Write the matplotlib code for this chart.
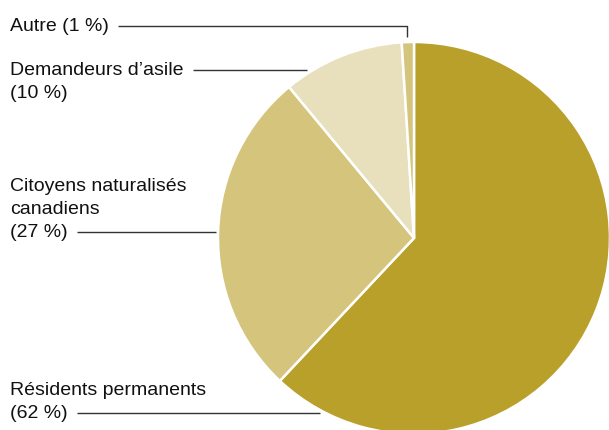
import matplotlib
matplotlib.use("Agg")
import matplotlib.pyplot as plt

W, H = 609, 430

categories = ["Résidents permanents", "Citoyens naturalisés canadiens",
              "Demandeurs d’asile", "Autre"]
shares = [62, 27, 10, 1]
colors = ["#b8a02a", "#d4c47c", "#e8e0bc", "#d4c47c"]

# étiquettes : lignes de texte, ligne qui porte le trait de rappel
label_lines = [
    ["Résidents permanents", "(62 %)"],
    ["Citoyens naturalisés", "canadiens", "(27 %)"],
    ["Demandeurs d’asile", "(10 %)"],
    ["Autre (1 %)"],
]
leader_row = [1, 2, 0, 0]

# positions en pixels (origine en haut à gauche)
label_top_baseline = [395, 191, 75, 31]
leader_end = [[(320, None)], [(216, None)], [(307, None)], [(407, None), (407, 37)]]

LINE_H = 23
FONT = ["Liberation Sans", "DejaVu Sans"]


def py(y):
    return H - y


fig = plt.figure(figsize=(W / 100, H / 100), dpi=100)
ax = fig.add_axes([0, 0, 1, 1])

ax.pie(shares, colors=colors, startangle=90, counterclock=False,
       center=(414, py(238)), radius=196, frame=True,
       wedgeprops=dict(edgecolor="white", linewidth=1.8))
ax.set_xlim(0, W)
ax.set_ylim(0, H)
ax.set_aspect("equal")
ax.axis("off")

fig.canvas.draw()
renderer = fig.canvas.get_renderer()

for lines, row, base, ends in zip(label_lines, leader_row, label_top_baseline, leader_end):
    for i, line in enumerate(lines):
        y = base + i * LINE_H
        t = ax.text(10, py(y), line, fontsize=14, family=FONT, color="#111111",
                    ha="left", va="baseline")
        if i == row:
            bb = t.get_window_extent(renderer)
            x0 = bb.x1 + 9
            ly = y - 5
            xs = [x0] + [p[0] for p in ends]
            ys = [ly] + [ly if p[1] is None else p[1] for p in ends]
            ax.plot(xs, [py(v) for v in ys], color="#333333", lw=1.0,
                    solid_capstyle="butt")

fig.savefig("out.png", dpi=100)
